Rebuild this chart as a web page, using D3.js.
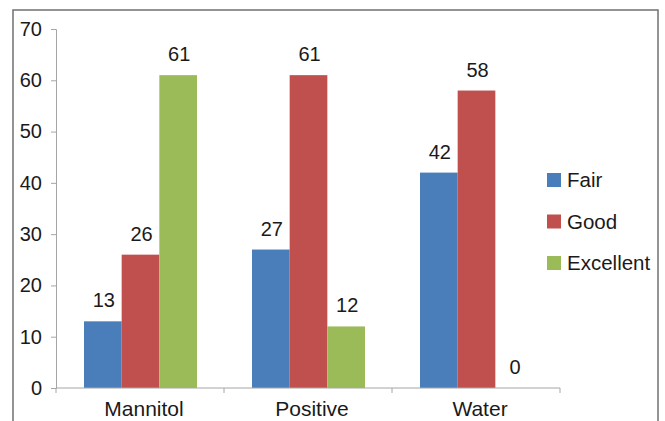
<!DOCTYPE html>
<html>
<head>
  <meta charset="utf-8">
  <title>Bar chart</title>
  <style>
    body { margin: 0; background: #fff; }
    text { font-family: "Liberation Sans", Arial, sans-serif; fill: #1a1a1a; }
    .axis path, .axis line { stroke: #a6a6a6; }
  </style>
  <script src="https://d3js.org/d3.v7.min.js"></script>
</head>
<body>
  <script>
    var categories = ["Mannitol", "Positive", "Water"];
    var seriesNames = ["Fair", "Good", "Excellent"];
    var fair = [13, 27, 42];
    var good = [26, 61, 58];
    var excellent = [61, 12, 0];
    var yTicks = [0, 10, 20, 30, 40, 50, 60, 70];
    var colors = ["#4a7ebb", "#c0504d", "#9bbb59"];

    var series = [fair, good, excellent];
    var width = 665, height = 421;

    var svg = d3.select('body').append('svg')
      .attr('width', width)
      .attr('height', height);

    // outer frame
    svg.append('rect')
      .attr('x', 13).attr('y', 10)
      .attr('width', 645).attr('height', 430)
      .attr('fill', 'none')
      .attr('stroke', '#707070')
      .attr('stroke-width', 1.5);

    var x = d3.scaleBand()
      .domain(categories)
      .range([56, 560])
      .paddingInner(0)
      .paddingOuter(0);

    var x1 = d3.scaleBand()
      .domain(d3.range(seriesNames.length))
      .range([28, x.bandwidth() - 27]);

    var y = d3.scaleLinear()
      .domain([0, 70])
      .range([388, 29]);

    // y axis
    var yAxis = svg.append('g')
      .attr('class', 'axis')
      .attr('transform', 'translate(56,0)')
      .call(d3.axisLeft(y).tickValues(yTicks).tickSize(5).tickSizeOuter(5).tickPadding(9));
    yAxis.selectAll('text').style('font-size', '20px').attr('fill', '#1a1a1a');

    // bars
    var groups = svg.append('g')
      .selectAll('g')
      .data(categories)
      .enter()
      .append('g')
        .attr('transform', d => 'translate(' + x(d) + ',0)');

    groups.selectAll('rect')
      .data((d, i) => series.map((s, k) => ({k: k, v: s[i]})))
      .enter()
      .append('rect')
        .attr('x', d => x1(d.k))
        .attr('width', x1.bandwidth())
        .attr('y', d => y(d.v))
        .attr('height', d => y(0) - y(d.v))
        .attr('fill', d => colors[d.k]);

    groups.selectAll('text.val')
      .data((d, i) => series.map((s, k) => ({k: k, v: s[i]})))
      .enter()
      .append('text')
        .attr('class', 'val')
        .attr('x', d => x1(d.k) + x1.bandwidth() / 2 + 1)
        .attr('y', d => y(d.v) - 14)
        .attr('text-anchor', 'middle')
        .style('font-size', '20px')
        .text(d => d.v);

    // x axis
    var xAxis = svg.append('g')
      .attr('class', 'axis')
      .attr('transform', 'translate(0,388)')
      .call(d3.axisBottom(x).tickSize(0).tickPadding(13));
    xAxis.selectAll('text')
      .style('font-size', '21px')
      .attr('fill', '#1a1a1a')
      .attr('dx', 4);
    xAxis.select('.domain').attr('d', 'M56,0H560');
    xAxis.selectAll('.sep')
      .data(d3.range(categories.length + 1))
      .enter()
      .append('line')
        .attr('class', 'sep')
        .attr('x1', i => 56 + i * x.bandwidth())
        .attr('x2', i => 56 + i * x.bandwidth())
        .attr('y1', 0).attr('y2', 5);

    // legend
    var legend = svg.append('g')
      .selectAll('g')
      .data(seriesNames)
      .enter()
      .append('g')
        .attr('transform', (d, i) => 'translate(547,' + (173 + i * 41.5) + ')');

    legend.append('rect')
      .attr('width', 14).attr('height', 14)
      .attr('fill', (d, i) => colors[i]);

    legend.append('text')
      .attr('x', 20).attr('y', 14)
      .style('font-size', '20.5px')
      .text(d => d);
  </script>
</body>
</html>
